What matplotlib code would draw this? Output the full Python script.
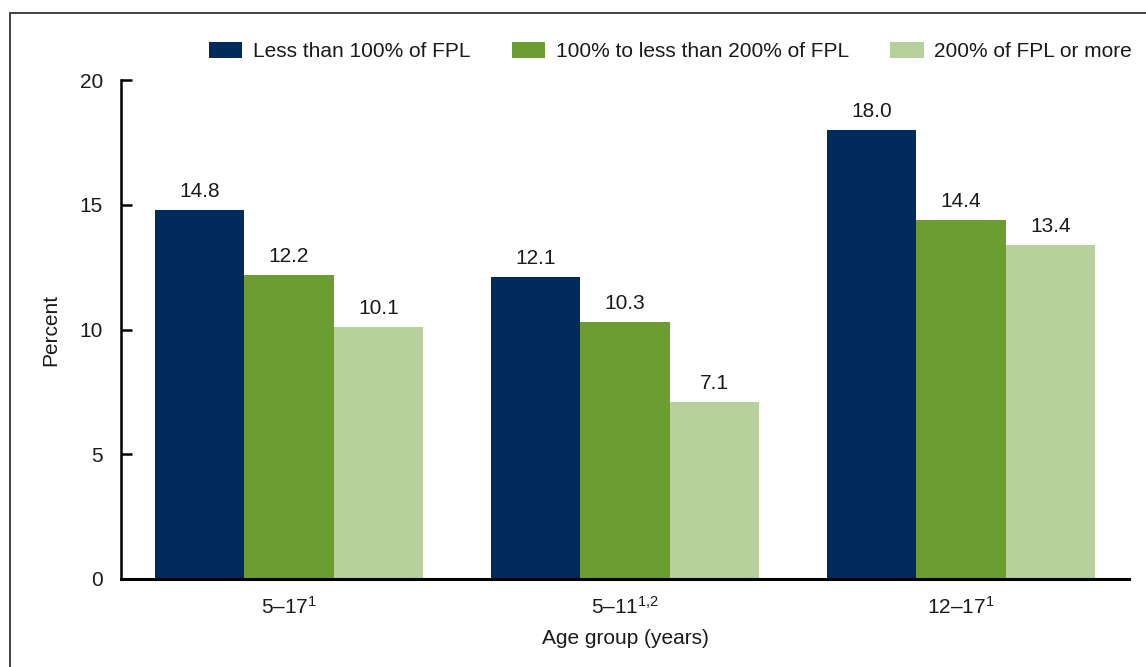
import matplotlib
matplotlib.use("Agg")
import matplotlib.pyplot as plt
import numpy as np
from matplotlib.patches import Rectangle

categories = ["5–17$^{1}$", "5–11$^{1{,}2}$", "12–17$^{1}$"]
series_names = ["Less than 100% of FPL", "100% to less than 200% of FPL", "200% of FPL or more"]
less_100 = [14.8, 12.1, 18.0]
from_100_to_200 = [12.2, 10.3, 14.4]
over_200 = [10.1, 7.1, 13.4]
colors = ["#002B5C", "#6B9D30", "#B8D09B"]

plt.rcParams['font.family'] = ['Liberation Sans', 'DejaVu Sans']
plt.rcParams['mathtext.fontset'] = 'custom'
plt.rcParams['mathtext.rm'] = 'Liberation Sans'
plt.rcParams['mathtext.it'] = 'Liberation Sans'
plt.rcParams['mathtext.default'] = 'rm'

FS = 15
fig = plt.figure(figsize=(11.46, 6.67), dpi=100)
ax = fig.add_axes([121/1146, 1-579/667, (1129-121)/1146, (579-80)/667])

x = np.arange(len(categories))
w = 0.8/3
data = [less_100, from_100_to_200, over_200]
for i, (vals, name, c) in enumerate(zip(data, series_names, colors)):
    bars = ax.bar(x + (i-1)*w, vals, width=w, color=c, label=name)
    for b, v in zip(bars, vals):
        ax.text(b.get_x()+b.get_width()/2, v + 0.35, f"{v:.1f}", ha='center', va='bottom', fontsize=FS, color='#1a1a1a')

ax.set_xlim(-0.5, 2.5)
ax.set_ylim(0, 20)
ax.set_yticks([0, 5, 10, 15, 20])
ax.set_xticks(x)
ax.set_xticklabels(categories)
ax.tick_params(axis='y', labelsize=FS, length=8, width=1.8, direction='in', pad=13, colors='black')
ax.tick_params(axis='x', labelsize=FS, length=0, pad=12)
for lab in ax.get_yticklabels() + ax.get_xticklabels():
    lab.set_color('#1a1a1a')
ax.spines['top'].set_visible(False)
ax.spines['right'].set_visible(False)
ax.spines['left'].set_linewidth(1.8)
ax.spines['bottom'].set_linewidth(2.2)
ax.set_ylabel("Percent", fontsize=FS, labelpad=14, color='#1a1a1a')
ax.set_xlabel("Age group (years)", fontsize=FS, labelpad=8, color='#1a1a1a')

leg = ax.legend(loc='upper right', bbox_to_anchor=(1132/1146, 1-42/667), bbox_transform=fig.transFigure,
                ncol=3, frameon=False, fontsize=FS, handlelength=1.6, handleheight=0.8,
                columnspacing=2.0, handletextpad=0.5, borderpad=0, borderaxespad=0)
for t in leg.get_texts():
    t.set_color('#1a1a1a')

fig.patches.append(Rectangle((9.5/1146, -0.1), 1.2, 1-12.5/667+0.1, transform=fig.transFigure,
                             fill=False, edgecolor='#333333', linewidth=1.3))

fig.savefig("out.png", dpi=100)
